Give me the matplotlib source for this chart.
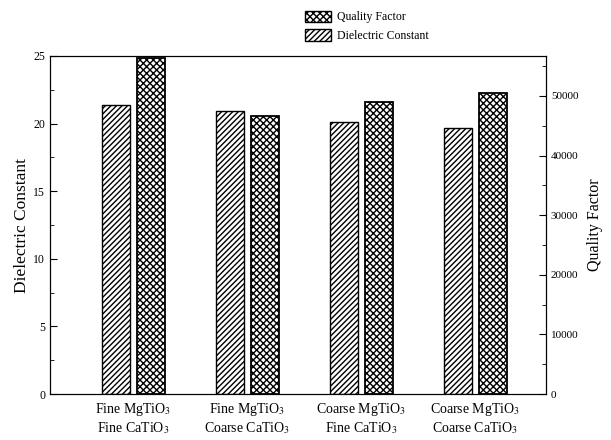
import numpy as np
import matplotlib
matplotlib.use("Agg")
import matplotlib.pyplot as plt
from matplotlib.ticker import MultipleLocator
from matplotlib.patches import Patch

plt.rcParams["font.family"] = ["Liberation Serif", "DejaVu Serif"]
plt.rcParams["mathtext.fontset"] = "stix"
plt.rcParams["hatch.linewidth"] = 1.0

# data
categories = [
    "Fine MgTiO$_3$\nFine CaTiO$_3$",
    "Fine MgTiO$_3$\nCoarse CaTiO$_3$",
    "Coarse MgTiO$_3$\nFine CaTiO$_3$",
    "Coarse MgTiO$_3$\nCoarse CaTiO$_3$",
]
dielectric = [21.4, 20.9, 20.1, 19.7]
quality = [56400, 46600, 49000, 50500]

x = np.arange(len(categories))
w = 0.245
off = 0.155

fig = plt.figure(figsize=(6.11, 4.40), dpi=100)
ax = fig.add_axes([50/611, 1-394/440, 496/611, 338/440])
ax2 = ax.twinx()

ax.bar(x - off, dielectric, w, color="white", edgecolor="black", hatch="//////", linewidth=1.0)
ax2.bar(x + off, quality, w, color="white", edgecolor="black", hatch="xxxxx", linewidth=1.3)

ax.set_xlim(-0.73, 3.62)
ax.set_ylim(0, 25)
ax2.set_ylim(0, 56700)

ax.yaxis.set_major_locator(MultipleLocator(5))
ax.yaxis.set_minor_locator(MultipleLocator(2.5))
ax2.yaxis.set_major_locator(MultipleLocator(10000))
ax2.yaxis.set_minor_locator(MultipleLocator(5000))

ax.set_xticks(x)
ax.set_xticklabels(categories, fontsize=10, linespacing=1.2)
ax.tick_params(axis="x", length=0, pad=5)
ax.tick_params(axis="y", which="major", direction="in", length=5, labelsize=8.5)
ax.tick_params(axis="y", which="minor", direction="in", length=3)
ax2.tick_params(axis="y", which="major", direction="in", length=5, labelsize=8)
ax2.tick_params(axis="y", which="minor", direction="in", length=3)

ax.set_ylabel("Dielectric Constant", fontsize=12.5)
ax.yaxis.set_label_coords(-0.040, 0.5)
ax2.set_ylabel("Quality Factor", fontsize=11.5)
ax2.yaxis.set_label_coords(1.082, 0.5)

handles = [
    Patch(facecolor="white", edgecolor="black", hatch="xxxxx", label="Quality Factor"),
    Patch(facecolor="white", edgecolor="black", hatch="//////", label="Dielectric Constant"),
]
fig.legend(handles=handles, loc="upper left", bbox_to_anchor=(300/611, 1-6/440),
           frameon=False, fontsize=8.5, handlelength=2.2, handleheight=1.1,
           labelspacing=0.5, handletextpad=0.5, borderaxespad=0)

fig.savefig("out.png", dpi=100)
